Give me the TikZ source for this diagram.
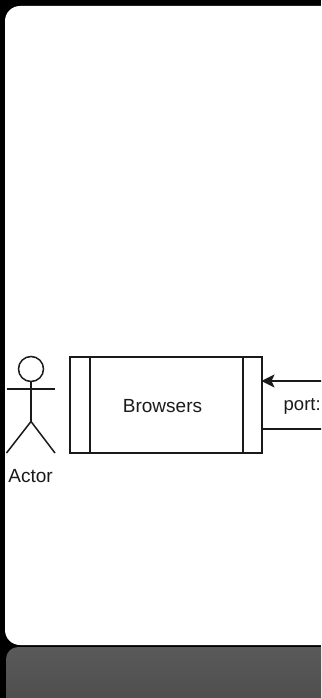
\documentclass[tikz,border=0pt]{standalone}
\usepackage{fontspec}
\setmainfont{Liberation Sans}
\usetikzlibrary{arrows.meta,calc}
\definecolor{ink}{HTML}{1A1A1A}
\tikzset{
  ln/.style={draw=ink,line width=1.5pt},
  lbl/.style={inner sep=0pt,text=ink,font=\fontsize{19}{22}\selectfont},
  flow/.style={ln,-{Stealth[length=13pt,width=13pt,inset=3pt]},shorten >=-0.5pt}
}
\begin{document}
\begin{tikzpicture}[x=1pt,y=-1pt]
\useasboundingbox (0,0) rectangle (321,698);
\clip (0,0) rectangle (321,698);
\fill[black] (0,0) rectangle (321,698);
% reflection of the panel
\shade[top color=black!65,bottom color=black!74,rounded corners=12pt]
  (6,647) rectangle (345,760);
% panel
\fill[white,rounded corners=15pt] (5,6) rectangle (345,645);
% browsers box
\node[ln,fill=white,outer sep=0pt,minimum width=192pt,minimum height=96pt,inner sep=0pt,anchor=north west] (browsers) at (70,357) {};
\node[lbl] (browserslabel) at (162.5,406) {Browsers};
\draw[ln] ($(browsers.north west)+(19.8,0)$) -- ($(browsers.south west)+(19.8,0)$);
\draw[ln] ($(browsers.north east)+(-19.2,0)$) -- ($(browsers.south east)+(-19.2,0)$);
% actor
\node[ln,circle,minimum size=25pt,inner sep=0pt] (head) at (31,369) {};
\coordinate (hip) at (31,421.5);
\coordinate (armL) at (6.5,389);
\coordinate (armR) at (55,389);
\coordinate (footL) at (6.5,453);
\coordinate (footR) at (55,453);
\draw[ln] (head.south) -- (hip);
\draw[ln] (armL) -- (armR);
\draw[ln] (footL) -- (hip) -- (footR);
\node[lbl] (actorlabel) at (30.5,476) {Actor};
% connectors
\coordinate (offIn) at (340,381);
\coordinate (offOut) at (340,429);
\draw[flow] (offIn) -- (offIn -| browsers.east);
\draw[ln] (browsers.east |- offOut) -- (offOut);
\node[lbl,anchor=west,font=\fontsize{18.5}{22}\selectfont] (portlabel) at (283.5,406) {port:};
\end{tikzpicture}
\end{document}
